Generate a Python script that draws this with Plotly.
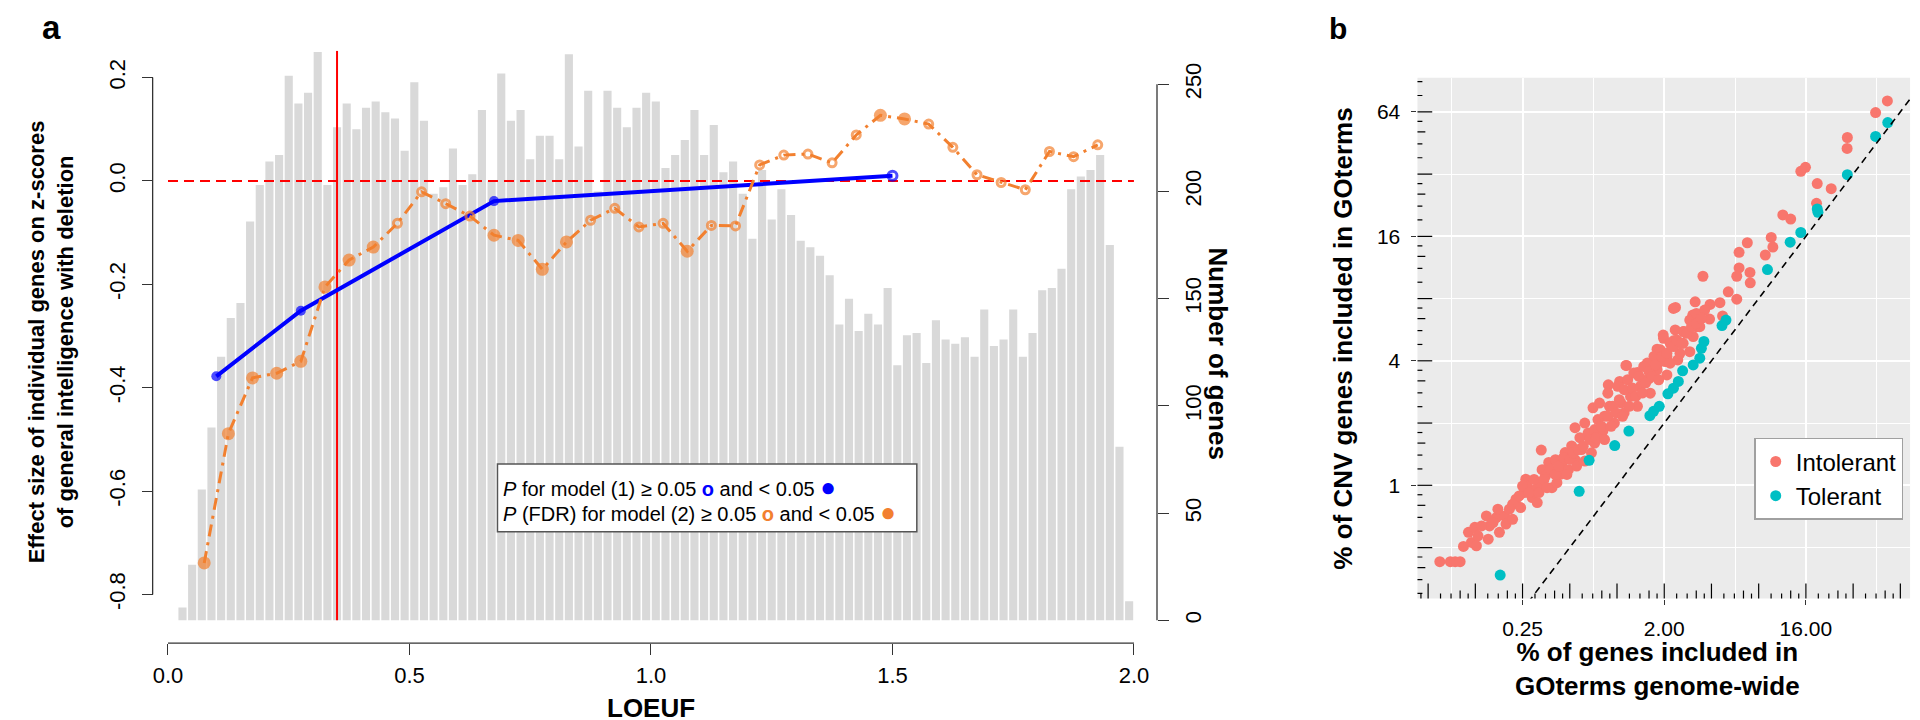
import plotly.graph_objects as go

W, H = 1920, 720

# ---------------- Panel a data ----------------
# LOEUF histogram: bins of width 0.02 from 0.02 to 2.00 (bin centres)
loeuf_bin_width = 0.02
loeuf_bins = [round(0.03 + 0.02 * i, 2) for i in range(99)]
gene_counts = [
    6, 26, 61, 90, 123, 141, 148, 186, 203, 214,
    217, 254, 241, 246, 265, 203, 230, 241, 229, 239,
    242, 237, 234, 219, 251, 233, 199, 202, 220, 203,
    208, 238, 205, 255, 233, 238, 215, 226, 226, 215,
    264, 221, 247, 200, 247, 239, 230, 239, 246, 242,
    211, 217, 224, 238, 217, 231, 209, 214, 199, 178,
    210, 187, 201, 189, 177, 174, 170, 161, 138, 150,
    135, 143, 138, 155, 119, 133, 134, 120, 140, 131,
    129, 132, 123, 145, 128, 131, 145, 123, 134, 154,
    155, 164, 201, 207, 210, 217, 175, 81, 9,
]

# Model (1): effect size per LOEUF group (blue)
model1_loeuf = [0.10, 0.275, 0.675, 1.50]
model1_effect = [-0.378, -0.251, -0.039, 0.010]
model1_significant = [True, True, True, False]

# Model (2): effect size per sliding LOEUF window (orange)
model2_loeuf = [round(0.075 + 0.05 * i, 3) for i in range(38)]
model2_effect = [
    -0.739, -0.489, -0.381, -0.372, -0.349, -0.205, -0.153, -0.128, -0.082, -0.021,
    -0.044, -0.068, -0.105, -0.115, -0.171, -0.118, -0.076, -0.053, -0.089, -0.082,
    -0.136, -0.086, -0.087, 0.031, 0.050, 0.052, 0.035, 0.089, 0.127, 0.120,
    0.110, 0.065, 0.012, -0.003, -0.017, 0.057, 0.047, 0.070,
]
model2_significant = [
    True, True, True, True, True, True, True, True, False, False,
    False, False, True, True, True, True, False, False, False, False,
    True, False, False, False, False, False, False, False, True, True,
    False, False, False, False, False, False, False, False,
]

loeuf_cutoff = 0.35
effect_reference = 0.0

left_ticks = [-0.8, -0.6, -0.4, -0.2, 0.0, 0.2]
left_ticktext = ["-0.8", "-0.6", "-0.4", "-0.2", "0.0", "0.2"]
right_ticks = [0, 50, 100, 150, 200, 250]
x_ticks = [0.0, 0.5, 1.0, 1.5, 2.0]
x_ticktext = ["0.0", "0.5", "1.0", "1.5", "2.0"]

# ---------------- Panel b data ----------------
intolerant_genome_pct = [
    52.9, 44.5, 29.4, 29.3, 14.85, 15.9, 18.9, 23.2, 18.7, 11.4,
    12.8, 6.77, 9.62, 6.0, 9.85, 8.82, 6.0, 7.04, 5.8, 7.07,
    3.53, 5.12, 5.8, 3.92, 4.53, 3.15, 2.36, 3.04, 3.89, 4.71,
    2.67, 3.21, 1.97, 2.29, 2.64, 2.91, 1.80, 2.08, 1.15, 2.44,
    1.56, 1.80, 1.35, 2.08, 1.60, 0.88, 1.04,
    0.0742, 0.0866, 0.093, 0.100, 0.105, 0.113, 0.124, 0.118, 0.127, 0.151,
    0.147, 0.154, 0.178, 0.170, 0.192, 0.196, 0.216, 0.227, 0.243, 0.256,
    0.262, 0.268, 0.288, 0.310, 0.303, 0.325, 0.333, 0.350, 0.367, 0.385,
    0.405, 0.414, 0.434, 0.445, 0.467, 0.490, 0.514, 0.540, 0.540, 0.329,
    0.580, 0.594, 0.623, 0.654, 0.703, 0.720, 0.756, 0.774, 0.813, 0.832,
    0.874, 0.895, 0.962, 1.01, 1.06, 1.11, 1.17, 1.14, 1.22, 1.28,
    1.35, 1.41, 1.48, 1.56, 1.63, 1.72, 1.80, 1.89, 1.98, 2.03,
    2.18, 2.29, 2.35, 2.65, 2.52, 2.91, 3.06, 3.21, 3.37, 3.62,
    0.130, 0.137, 0.162, 0.174, 0.206, 0.216, 0.238, 0.250, 0.275, 0.296,
    0.318, 0.342, 0.358, 0.376, 0.404, 0.424, 0.456, 0.479, 0.502, 0.527,
    0.553, 0.567, 0.609, 0.624, 0.671, 0.687, 0.721, 0.738, 0.794, 0.833,
    0.874, 0.917, 0.939, 0.986, 1.034, 1.085, 1.112, 1.195, 1.254, 1.316,
    1.381, 1.449, 1.521, 1.596, 1.675, 1.757, 1.844, 1.935, 2.080, 2.182,
    2.290, 2.403, 2.583, 2.777, 2.985, 3.208, 3.449,
]
intolerant_cnv_pct = [
    72.3, 63.5, 48.1, 42.6, 33.0, 34.5, 28.8, 27.2, 23.1, 20.3,
    19.4, 14.9, 15.8, 13.4, 14.2, 13.0, 11.26, 10.7, 10.26, 9.53,
    10.26, 8.63, 7.95, 7.5, 7.64, 7.72, 7.25, 6.66, 6.37, 6.59,
    5.54, 5.85, 5.33, 5.0, 4.86, 4.43, 4.55, 4.2, 3.80, 4.04,
    3.9, 3.83, 3.51, 3.42, 3.29, 3.06, 3.18,
    0.427, 0.427, 0.427, 0.427, 0.506, 0.592, 0.626, 0.529, 0.510, 0.549,
    0.711, 0.636, 0.592, 0.698, 0.711, 0.649, 0.809, 0.856, 0.780, 0.922,
    1.07, 0.99, 0.872, 0.825, 0.956, 1.01, 1.19, 1.11, 1.29, 0.974,
    1.33, 1.03, 1.13, 1.26, 1.44, 1.19, 1.55, 1.33, 1.90, 1.48,
    1.70, 1.49, 2.00, 1.79, 2.37, 1.60, 2.08, 2.50, 1.83, 2.16,
    2.79, 2.41, 2.00, 3.01, 2.50, 2.24, 3.24, 3.80, 2.69, 3.49,
    2.41, 3.01, 3.76, 3.24, 2.79, 4.20, 3.62, 4.52, 5.14, 3.97,
    4.86, 7.17, 5.64, 5.54, 4.35, 6.30, 5.24, 6.78, 5.85, 7.04,
    0.570, 0.636, 0.660, 0.766, 0.766, 0.685, 0.888, 0.992, 0.922, 1.068,
    0.922, 1.068, 0.974, 1.194, 1.129, 1.239, 1.359, 1.129, 1.334, 1.436,
    1.239, 1.490, 1.546, 1.309, 1.665, 1.436, 1.860, 1.696, 1.930, 1.665,
    2.157, 1.930, 2.409, 2.238, 2.595, 2.157, 2.899, 2.409, 2.953, 2.692,
    3.361, 2.794, 3.121, 3.552, 3.361, 3.826, 3.239, 4.195, 4.354, 3.897,
    4.688, 5.048, 4.864, 5.435, 5.852, 6.072, 6.418,
]
tolerant_genome_pct = [
    0.180, 0.574, 0.664, 0.967, 1.19, 1.62, 1.71, 1.86, 2.11, 2.29,
    2.46, 2.62, 3.06, 3.37, 3.45, 3.58, 4.67, 4.95, 9.1, 12.7,
    14.85, 19.1, 18.9, 29.4, 44.5, 53.2,
]
tolerant_cnv_pct = [
    0.368, 0.935, 1.32, 1.557, 1.83, 2.17, 2.28, 2.41, 2.77, 2.95,
    3.18, 3.58, 3.82, 4.12, 4.60, 4.96, 5.92, 6.30, 11.05, 15.0,
    16.7, 20.9, 21.7, 31.8, 48.7, 56.8,
]
b_x_ticks = [0.25, 2, 16]
b_x_ticktext = ["0.25", "2.00", "16.00"]
b_x_minor = [2 ** -3.5, 2 ** -0.5, 2 ** 2.5, 2 ** 5.5]
b_y_ticks = [1, 4, 16, 64]
b_y_ticktext = ["1", "4", "16", "64"]
b_y_minor = [0.5, 2, 8, 32]
identity_line = [0.01, 200]

# ---------------- styling ----------------
SANS = "Liberation Sans, Arial, Helvetica, sans-serif"
BLUE = "#0000FF"
ORANGE = "#F2802F"
RED = "#FF0000"
BAR = "#D9D9D9"
AXIS = "#333333"


def fx(px):
    return px / W


def fy(py):
    return 1 - py / H


A_X0, A_X1 = 147.3, 1128.6
A_TOP, A_BOT = 43.0, 615.0
LEFT_RANGE = [-0.8503, 0.2518]
RIGHT_RANGE = [0, 265.6]
A_LEFT_X = 131.7
A_RIGHT_X = 1152.0
A_XAXIS_Y = 637.7

B_X0, B_X1 = 1416.6, 1917.0
B_TOP, B_BOT = 70.0, 593.0
B_XRANGE = [-1.272, 1.868]
B_YRANGE = [-0.5477, 1.9714]

fig = go.Figure()

# histogram bars (right axis)
fig.add_trace(go.Bar(
    x=loeuf_bins, y=gene_counts, width=loeuf_bin_width * 0.84,
    marker=dict(color=BAR, line=dict(width=0)),
    xaxis="x", yaxis="y", showlegend=False, hoverinfo="skip",
))

# reference lines
fig.add_trace(go.Scatter(
    x=[0, 2], y=[effect_reference, effect_reference], mode="lines",
    line=dict(color=RED, width=2, dash="10px,6px"),
    xaxis="x", yaxis="y2", showlegend=False, hoverinfo="skip",
))
fig.add_trace(go.Scatter(
    x=[loeuf_cutoff, loeuf_cutoff], y=LEFT_RANGE, mode="lines",
    line=dict(color=RED, width=2),
    xaxis="x", yaxis="y2", showlegend=False, hoverinfo="skip",
))

# model (1) blue
fig.add_trace(go.Scatter(
    x=model1_loeuf, y=model1_effect, mode="lines+markers",
    line=dict(color=BLUE, width=4),
    marker=dict(
        symbol=["circle" if s else "circle-open" for s in model1_significant],
        size=[10 if s else 9 for s in model1_significant],
        color=BLUE,
        line=dict(color=BLUE, width=[0 if s else 3 for s in model1_significant]),
    ),
    xaxis="x", yaxis="y2", showlegend=False,
))

# model (2) orange
fig.add_trace(go.Scatter(
    x=model2_loeuf, y=model2_effect, mode="lines+markers",
    line=dict(color=ORANGE, width=3, dash="12px,6px,3px,6px"),
    marker=dict(
        symbol=["circle" if s else "circle-open" for s in model2_significant],
        size=[13 if s else 8 for s in model2_significant],
        color=ORANGE,
        line=dict(color=ORANGE, width=[0 if s else 3 for s in model2_significant]),
    ),
    xaxis="x", yaxis="y2", showlegend=False,
))

# panel b scatter
fig.add_trace(go.Scatter(
    x=intolerant_genome_pct, y=intolerant_cnv_pct, mode="markers",
    marker=dict(color="#F8766D", size=11), name="Intolerant",
    xaxis="x3", yaxis="y3",
))
fig.add_trace(go.Scatter(
    x=tolerant_genome_pct, y=tolerant_cnv_pct, mode="markers",
    marker=dict(color="#00BFC4", size=11), name="Tolerant",
    xaxis="x3", yaxis="y3",
))
fig.add_trace(go.Scatter(
    x=identity_line, y=identity_line, mode="lines",
    line=dict(color="black", width=1.6, dash="7px,5px"),
    xaxis="x3", yaxis="y3", showlegend=False, hoverinfo="skip",
))

tick_font = dict(family=SANS, size=22, color="black")

shapes = []
# R-style axis lines spanning only the tick range
shapes.append(dict(type="line", xref="paper", yref="y2", x0=fx(A_LEFT_X), x1=fx(A_LEFT_X),
                   y0=left_ticks[0], y1=left_ticks[-1], line=dict(color=AXIS, width=1.3)))
shapes.append(dict(type="line", xref="paper", yref="y", x0=fx(A_RIGHT_X), x1=fx(A_RIGHT_X),
                   y0=right_ticks[0], y1=right_ticks[-1], line=dict(color=AXIS, width=1.3)))
shapes.append(dict(type="line", xref="x", yref="paper", x0=x_ticks[0], x1=x_ticks[-1],
                   y0=fy(A_XAXIS_Y), y1=fy(A_XAXIS_Y), line=dict(color=AXIS, width=1.3)))
# legend box of panel a
shapes.append(dict(type="rect", xref="paper", yref="paper", x0=fx(482), x1=fx(908),
                   y0=fy(526), y1=fy(458), fillcolor="white", line=dict(color="#555555", width=1.5)))
# panel b background
shapes.append(dict(type="rect", xref="x3 domain", yref="y3 domain", x0=0, x1=1, y0=0, y1=1,
                   fillcolor="#EBEBEB", line=dict(width=0), layer="below"))

# log ticks of panel b (decorative axis marks)
b_h = B_BOT - B_TOP
b_w = B_X1 - B_X0
for k in range(-5, 7):
    for m, ln in ((1.0, 15), (1.2, 5), (1.4, 5), (1.6, 8), (1.8, 5)):
        v = (2 ** k) * m
        if 0.054 < v < 73:
            shapes.append(dict(type="line", xref="x3", yref="y3 domain", x0=v, x1=v, y0=0, y1=ln / b_h,
                               line=dict(color="black", width=1.2)))
        if 0.29 < v < 93:
            shapes.append(dict(type="line", xref="x3 domain", yref="y3", x0=0, x1=ln / b_w, y0=v, y1=v,
                               line=dict(color="black", width=1.2)))

dot = "<span style='color:%s;font-size:26px'>●</span>"
ring = "<span style='color:%s'><b>o</b></span>"
annotations = [
    dict(text="<b>a</b>", x=fx(29), y=fy(20), font=dict(family=SANS, size=33, color="black")),
    dict(text="<b>b</b>", x=fx(1336), y=fy(21), font=dict(family=SANS, size=30, color="black")),
    dict(text="<b>Effect size of individual genes on z-scores<br>of general intelligence with deletion</b>",
         x=fx(28), y=fy(335), textangle=-90, font=dict(family=SANS, size=22, color="black")),
    dict(text="<b>LOEUF</b>", x=fx(638), y=fy(703), font=dict(family=SANS, size=26, color="black")),
    dict(text="<b>Number of genes</b>", x=fx(1214), y=fy(347), textangle=90,
         font=dict(family=SANS, size=26, color="black")),
    dict(text=("<i>P</i> for model (1) ≥ 0.05 " + ring + " and &lt; 0.05 " + dot) % (BLUE, BLUE),
         x=fx(486), y=fy(481), xanchor="left", font=dict(family=SANS, size=20, color="black")),
    dict(text=("<i>P</i> (FDR) for model (2) ≥ 0.05 " + ring + " and &lt; 0.05 " + dot) % (ORANGE, ORANGE),
         x=fx(486), y=fy(506), xanchor="left", font=dict(family=SANS, size=20, color="black")),
    dict(text="<b>% of CNV genes included in GOterms</b>", x=fx(1341), y=fy(332), textangle=-90,
         font=dict(family=SANS, size=26, color="black")),
    dict(text="<b>% of genes included in<br>GOterms genome-wide</b>", x=fx(1660), y=fy(664),
         font=dict(family=SANS, size=26, color="black")),
]
for a in annotations:
    a.setdefault("xref", "paper")
    a.setdefault("yref", "paper")
    a.setdefault("showarrow", False)
    a.setdefault("xanchor", "center")
    a.setdefault("yanchor", "middle")

fig.update_layout(
    width=W, height=H,
    margin=dict(l=0, r=0, t=0, b=0),
    paper_bgcolor="white", plot_bgcolor="white",
    barmode="overlay",
    xaxis=dict(
        domain=[fx(A_X0), fx(A_X1)], range=[0, 2], anchor="free", position=fy(A_XAXIS_Y),
        tickvals=x_ticks, ticktext=x_ticktext, ticks="outside", ticklen=11, tickwidth=1.3,
        tickcolor=AXIS, showline=False, showgrid=False, zeroline=False, tickfont=tick_font,
        ticklabelstandoff=2,
    ),
    yaxis=dict(
        domain=[fy(A_BOT), fy(A_TOP)], range=RIGHT_RANGE, anchor="free", position=fx(A_RIGHT_X),
        side="right", tickvals=right_ticks, ticks="outside", ticklen=11, tickwidth=1.3,
        tickcolor=AXIS, showline=False, showgrid=False, zeroline=False, tickfont=tick_font,
        tickangle=-90, ticklabelstandoff=6,
    ),
    yaxis2=dict(
        overlaying="y", range=LEFT_RANGE, anchor="free", position=fx(A_LEFT_X), side="left",
        tickvals=left_ticks, ticktext=left_ticktext, ticks="outside", ticklen=11, tickwidth=1.3,
        tickcolor=AXIS, showline=False, showgrid=False, zeroline=False, tickfont=tick_font,
        tickangle=-90, ticklabelstandoff=8,
    ),
    xaxis3=dict(
        domain=[fx(B_X0), fx(B_X1)], type="log", range=B_XRANGE, anchor="y3",
        tickvals=b_x_ticks, ticktext=b_x_ticktext, ticks="outside", ticklen=5, tickcolor=AXIS,
        showgrid=True, gridcolor="white", gridwidth=2, zeroline=False, showline=False,
        tickfont=dict(family=SANS, size=21, color="black"),
        minor=dict(tickvals=b_x_minor, showgrid=True, gridcolor="white", gridwidth=1, ticks=""),
        ticklabelstandoff=6,
    ),
    yaxis3=dict(
        domain=[fy(B_BOT), fy(B_TOP)], type="log", range=B_YRANGE, anchor="x3",
        tickvals=b_y_ticks, ticktext=b_y_ticktext, ticks="outside", ticklen=5, tickcolor=AXIS,
        showgrid=True, gridcolor="white", gridwidth=2, zeroline=False, showline=False,
        tickfont=dict(family=SANS, size=21, color="black"),
        minor=dict(tickvals=b_y_minor, showgrid=True, gridcolor="white", gridwidth=1, ticks=""),
        ticklabelstandoff=7,
    ),
    legend=dict(
        x=fx(1758.7), y=fy(431.7), xanchor="left", yanchor="top",
        bgcolor="white", bordercolor="#A0A0A0", borderwidth=1.5,
        font=dict(family=SANS, size=24, color="black"), itemwidth=30, tracegroupgap=0,
    ),
    shapes=shapes,
    annotations=annotations,
)

fig.write_html("out.html")
